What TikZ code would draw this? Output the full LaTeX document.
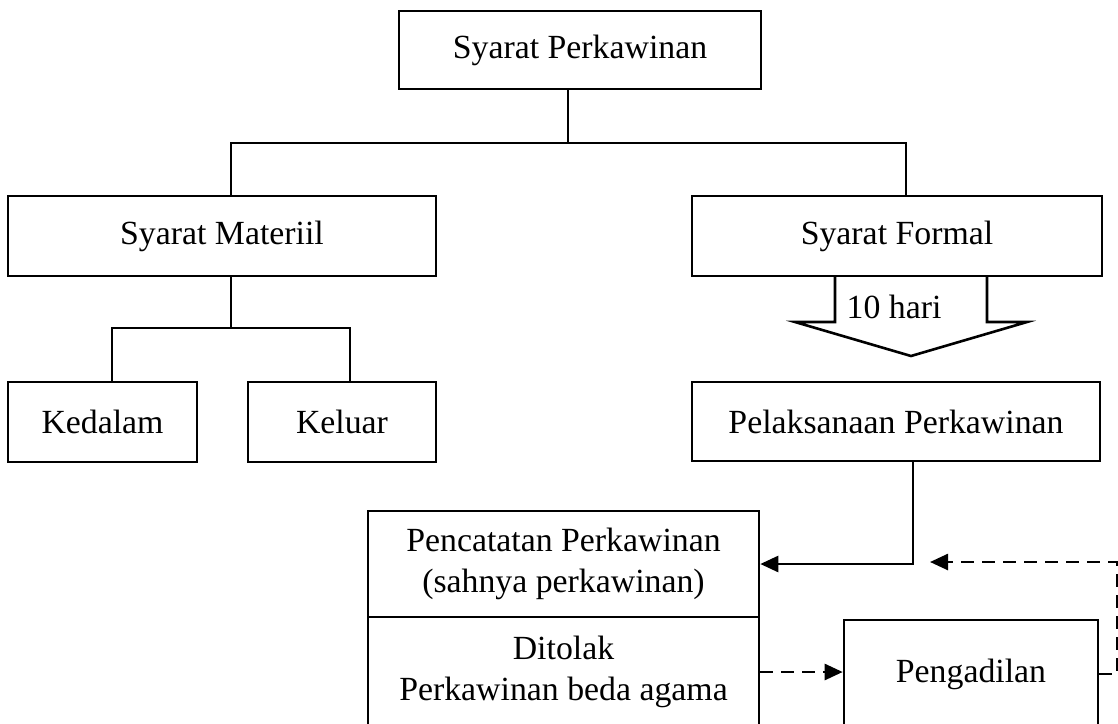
\documentclass[tikz,border=0pt]{standalone}
\usepackage{fontspec}
\setmainfont{Liberation Serif}
\usepackage{tikz}
\usetikzlibrary{arrows.meta}

\begin{document}
\begin{tikzpicture}[
  x=0.5pt, y=-0.5pt,
  font=\fontsize{16.9}{20.5}\selectfont,
  box/.style    ={rectangle, draw, line width=1.3pt, inner sep=0pt,
                  align=center},
  tree/.style   ={line width=1.3pt},
  flow/.style   ={-{Triangle[length=9pt, width=8pt]}, line width=1.3pt},
  dflow/.style  ={-{Triangle[length=9pt, width=8pt]}, line width=1.3pt,
                  dash pattern=on 6.5pt off 4pt}
]
\useasboundingbox (0,0) rectangle (1118,723);

% ---------- Tree of requirements ----------
\node[box, minimum width=181pt, minimum height=39pt]   (syarat)   at (580,50)    {Syarat Perkawinan};
\node[box, minimum width=214pt, minimum height=40pt]   (materiil) at (222,236)   {Syarat Materiil};
\node[box, minimum width=205pt, minimum height=40pt]   (formal)   at (897,236)   {Syarat Formal};
\node[box, minimum width=94.5pt, minimum height=40pt]  (kedalam)  at (102.5,422) {Kedalam};
\node[box, minimum width=94pt, minimum height=40pt]    (keluar)   at (342,422)   {Keluar};

% ---------- Procedure ----------
\node[box, minimum width=204pt, minimum height=39.5pt] (laksana)  at (896,421.5) {Pelaksanaan Perkawinan};
\node[box, minimum width=195.5pt, minimum height=53pt] (catat)    at (563.5,564) {Pencatatan Perkawinan\\(sahnya perkawinan)};
\node[box, minimum width=195.5pt, minimum height=55pt] (tolak)    at (563.5,672) {Ditolak\\Perkawinan beda agama};
\node[box, minimum width=127pt, minimum height=54pt]   (adil)     at (971,674)   {Pengadilan};

\coordinate (bj)   at (568,143);
\coordinate (mj)   at (231,328);
\coordinate (turn) at (1117,562);
\coordinate (ret)  at (930,562);

% ---------- Tree lines ----------
\draw[tree] ([xshift=-6pt]syarat.south) -- (bj);
\draw[tree] ([xshift=4.5pt]materiil.north) |- (bj) -| ([xshift=4.5pt]formal.north);
\draw[tree] ([xshift=4.5pt]materiil.south) -- (mj);
\draw[tree] ([xshift=4.75pt]kedalam.north) |- (mj) -| ([xshift=4pt]keluar.north);

% ---------- Block arrow: 10 hari ----------
\draw[line width=1.3pt, line join=miter]
  (835,276) -- (835,322) -- (795,322) -- (911,356) -- (1027,322) -- (987,322) -- (987,276);
\node (hari) at (894,307) {10 hari};

% ---------- Arrows ----------
\draw[flow]  ([xshift=8.5pt]laksana.south) |- (catat.east);
\draw[dflow] (tolak.east) -- (adil.west |- tolak.east);
\draw[dflow] (adil.east) -| (turn) -- (ret);

\end{tikzpicture}
\end{document}
